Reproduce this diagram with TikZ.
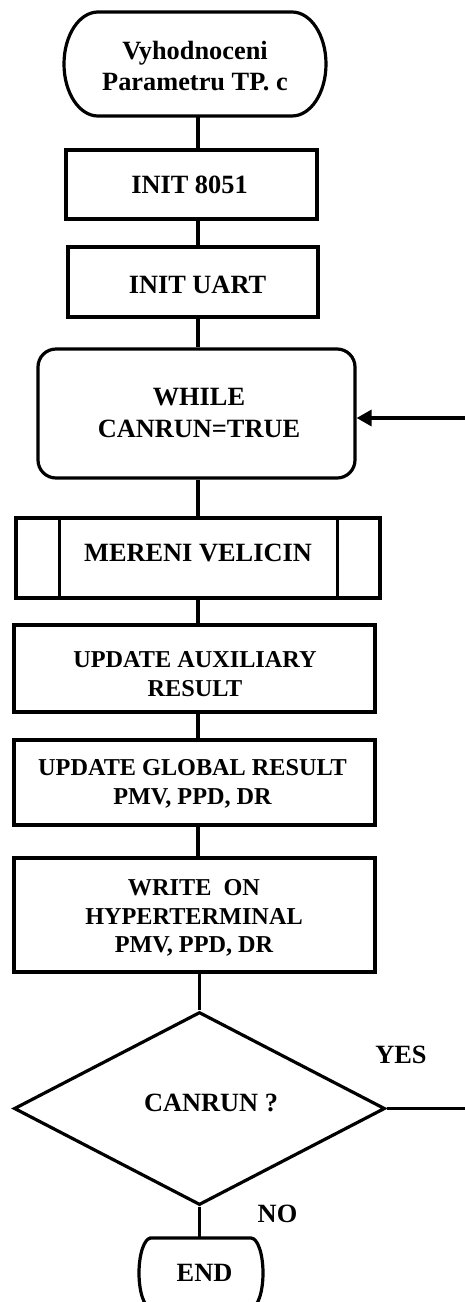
\documentclass[tikz,border=0pt]{standalone}
\usepackage{fontspec}
\setmainfont{Liberation Serif}
\usetikzlibrary{shapes.geometric,arrows.meta,calc}
\begin{document}
\begin{tikzpicture}[x=0.02cm, y=-0.02cm, line width=0.064cm,
  sz/.style 2 args={minimum width=#1*0.02cm, minimum height=#2*0.02cm},
  shape box/.style={draw, rectangle, inner sep=0pt},
  plain/.style={rectangle, inner sep=0pt, outer sep=0pt},
  big/.style={font=\fontsize{15}{18}\selectfont\bfseries, align=center, inner sep=0pt},
  small/.style={font=\fontsize{13.8}{16.4}\selectfont\bfseries, align=center, inner sep=0pt},
  tip/.style={-{Triangle[length=0.3cm,width=0.32cm]}}]
\useasboundingbox (0,0) rectangle (465,1302);
\clip (0,0) rectangle (465,1302);

% vertical axis of the flow
\coordinate (spine) at (198,0);

% start terminal with elliptic ends
\node[plain, sz={262}{104}] (start) at (195,64) {};
\draw ([xshift=0.68cm]start.north west) -- ([xshift=-0.68cm]start.north east)
  arc[start angle=90, end angle=-90, x radius=0.68cm, y radius=1.04cm]
  -- ([xshift=0.68cm]start.south west)
  arc[start angle=270, end angle=90, x radius=0.68cm, y radius=1.04cm] -- cycle;
\node[big] (tstart) at (195,66) {Vyhodnoceni\\Parametru TP. c};

% initialisation
\node[shape box, sz={251}{69}] (init) at (191.5,184.5) {};
\node[big] (tinit) at (189.5,184.5) {INIT 8051};
\node[shape box, sz={250}{70}] (uart) at (193,282) {};
\node[big] (tuart) at (197.5,285) {INIT UART};

% loop head
\node[shape box, rounded corners=0.36cm, sz={317}{129}] (loop) at (196.5,413.5) {};
\node[big] (tloop) at (199,413) {WHILE\\CANRUN=TRUE};

% predefined process
\node[shape box, sz={364}{80}] (meas) at (198,558) {};
\draw ($(meas.north west)+(45,0)$) -- ($(meas.south west)+(45,0)$);
\draw ($(meas.north east)+(-44,0)$) -- ($(meas.south east)+(-44,0)$);
\node[big] (tmeas) at (198,553) {MERENI VELICIN};

% processing steps
\node[shape box, sz={361}{87}] (aux) at (194.5,668.5) {};
\node[small] (taux) at (195,674.5) {UPDATE AUXILIARY\\RESULT};
\node[shape box, sz={361}{85}] (glob) at (194.5,782.5) {};
\node[small] (tglob) at (192.5,784) {UPDATE GLOBAL RESULT\\PMV, PPD, DR};
\node[shape box, sz={361}{114}] (write) at (194.5,915) {};
\node[small] (twrite) at (194,918) {WRITE\ \ ON\\HYPERTERMINAL\\PMV, PPD, DR};

% decision
\node[draw, diamond, inner sep=0pt, sz={371}{193}] (dec) at (199.5,1108.5) {};
\node[big] (tdec) at (211,1102.5) {CANRUN ?};
\node[big] (yes) at (401,1055) {YES};
\node[big] (no) at (277.5,1214) {NO};

% end terminal
\node[plain, sz={124}{70}] (end) at (201,1273) {};
\draw ([xshift=0.24cm]end.north west) -- ([xshift=-0.24cm]end.north east)
  arc[start angle=90, end angle=-90, x radius=0.24cm, y radius=0.7cm]
  -- ([xshift=0.24cm]end.south west)
  arc[start angle=270, end angle=90, x radius=0.24cm, y radius=0.7cm] -- cycle;
\node[big] (tend) at (204.5,1273) {END};

% connectors
\draw (start.south -| spine) -- (init.north -| spine);
\draw (init.south -| spine) -- (uart.north -| spine);
\draw (uart.south -| spine) -- (loop.north -| spine);
\draw (loop.south -| spine) -- (meas.north -| spine);
\draw (meas.south -| spine) -- (aux.north -| spine);
\draw (aux.south -| spine) -- (glob.north -| spine);
\draw (glob.south -| spine) -- (write.north -| spine);
\draw (write.south -| dec.north) -- (dec.north);
\draw (dec.south) -- (end.north -| dec.south);

% loop back
\coordinate (back) at (465,418);
\coordinate (yesout) at (465,1108.5);
\draw (dec.east) -- (yesout);
\draw[tip] (back) -- (back -| loop.east);
\end{tikzpicture}
\end{document}
